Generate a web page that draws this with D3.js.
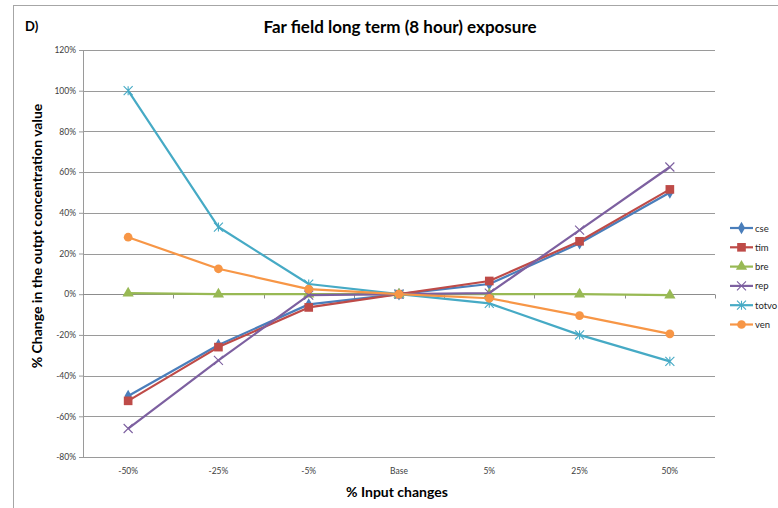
<!DOCTYPE html>
<html>
<head>
<meta charset="utf-8">
<script src="https://cdn.jsdelivr.net/npm/d3@7"></script>
<style>
  body { margin: 0; background: #fff; }
  text { font-family: Lato, "Open Sans", sans-serif; }
</style>
</head>
<body>
<div id="chart"></div>
<script>
let categories = ["-50%", "-25%", "-5%", "Base", "5%", "25%", "50%"];

let cse   = [-50, -25, -5, 0, 5, 25, 50];
let tim   = [-52.4, -26, -6.5, 0, 6.5, 26, 51.5];
let bre   = [0.5, 0, 0, 0, 0, 0, -0.5];
let rep   = [-66, -32.5, -0.5, 0, 0.5, 31.5, 62.5];
let totvo = [100, 33, 5, 0, -4.5, -20, -33];
let ven   = [28, 12.5, 2.5, 0, -2, -10.5, -19.5];

let yTicks = [-80, -60, -40, -20, 0, 20, 40, 60, 80, 100, 120];

let seriesNames  = ["cse", "tim", "bre", "rep", "totvo", "ven"];
let seriesValues = [cse, tim, bre, rep, totvo, ven];
let seriesColors = ["#4a7ebb", "#be4b48", "#98b954", "#7d60a0", "#46aac5", "#f79646"];
let seriesSymbols = ["diamond", "square", "triangle", "x", "star", "circle"];

let width = 778, height = 508;
let margin = { top: 50, right: 63, bottom: 51, left: 83 };
let innerW = width - margin.left - margin.right,
    innerH = height - margin.top - margin.bottom;

let svg = d3.select("#chart").append("svg")
    .attr("width", width)
    .attr("height", height);

// outer chart border
svg.append("rect")
    .attr("x", 13.5).attr("y", 5.5)
    .attr("width", 800).attr("height", 600)
    .attr("fill", "none")
    .attr("stroke", "#a6a6a6");

let g = svg.append("g")
    .attr("transform", "translate(" + margin.left + "," + margin.top + ")");

let x = d3.scaleBand().domain(categories).range([0, innerW]);
let y = d3.scaleLinear().domain([-80, 120]).range([innerH, 0]);

// gridlines
g.selectAll(".grid")
  .data(yTicks)
  .enter().append("line")
    .attr("x1", 0).attr("x2", innerW)
    .attr("y1", d => Math.round(y(d)) + 0.5)
    .attr("y2", d => Math.round(y(d)) + 0.5)
    .attr("stroke", "#9a9a9a")
    .attr("stroke-width", 1);

// left axis
let yAxis = g.append("g")
    .call(d3.axisLeft(y).tickValues(yTicks).tickSize(4).tickFormat(d => d + "%"));
yAxis.select(".domain").attr("stroke", "#9a9a9a");
yAxis.selectAll(".tick line").attr("stroke", "#9a9a9a");
yAxis.selectAll(".tick text")
    .attr("font-size", 8.5)
    .attr("fill", "#404040")
    .attr("x", -7);

// category axis crossing at zero, labels placed at the bottom
let y0 = Math.round(y(0)) + 0.5;
g.append("line")
    .attr("x1", 0).attr("x2", innerW)
    .attr("y1", y0).attr("y2", y0)
    .attr("stroke", "#8c8c8c");
let bounds = categories.map((c, i) => x.step() * (i + 1));
g.selectAll(".xtick")
  .data(bounds)
  .enter().append("line")
    .attr("x1", d => Math.round(d) + 0.5).attr("x2", d => Math.round(d) + 0.5)
    .attr("y1", y0).attr("y2", y0 + 4)
    .attr("stroke", "#8c8c8c");

g.selectAll(".xlabel")
  .data(categories)
  .enter().append("text")
    .attr("x", d => x(d) + x.bandwidth() / 2)
    .attr("y", innerH + 17)
    .attr("text-anchor", "middle")
    .attr("font-size", 8.5)
    .attr("fill", "#404040")
    .text(d => d);

// lines
let line = d3.line()
    .x((d, i) => x(categories[i]) + x.bandwidth() / 2)
    .y(d => y(d));

let symbolTypes = {
  diamond: d3.symbolDiamond, square: d3.symbolSquare, triangle: d3.symbolTriangle,
  circle: d3.symbolCircle
};

function drawMarker(sel, type, color, cx, cy) {
  if (type === "x" || type === "star") {
    let r = 4.5;
    let p = "M" + (cx - r) + "," + (cy - r) + "L" + (cx + r) + "," + (cy + r) +
            "M" + (cx - r) + "," + (cy + r) + "L" + (cx + r) + "," + (cy - r);
    if (type === "star") p += "M" + cx + "," + (cy - r) + "L" + cx + "," + (cy + r);
    sel.append("path").attr("d", p).attr("stroke", color).attr("stroke-width", 1.1).attr("fill", "none");
  } else {
    let size = type === "circle" ? 60 : type === "square" ? 75 : type === "triangle" ? 55 : 45;
    sel.append("path")
      .attr("d", d3.symbol().type(symbolTypes[type]).size(size)())
      .attr("transform", "translate(" + cx + "," + cy + ")")
      .attr("fill", color);
  }
}

seriesValues.forEach(function(vals, k) {
  g.append("path")
    .attr("d", line(vals))
    .attr("fill", "none")
    .attr("stroke", seriesColors[k])
    .attr("stroke-width", 2.2)
    .attr("stroke-linejoin", "round");
  vals.forEach(function(v, i) {
    drawMarker(g, seriesSymbols[k], seriesColors[k], x(categories[i]) + x.bandwidth() / 2, y(v));
  });
});

// legend
let legend = svg.append("g").attr("transform", "translate(730,228)");
seriesNames.forEach(function(name, k) {
  let ly = k * 19.3;
  legend.append("line")
    .attr("x1", 0).attr("x2", 23)
    .attr("y1", ly).attr("y2", ly)
    .attr("stroke", seriesColors[k])
    .attr("stroke-width", 2.2);
  drawMarker(legend, seriesSymbols[k], seriesColors[k], 11.5, ly);
  legend.append("text")
    .attr("x", 25).attr("y", ly + 3.5)
    .attr("font-size", 9.5)
    .attr("fill", "#262626")
    .text(name);
});

// titles
svg.append("text")
    .attr("x", 25).attr("y", 31)
    .attr("font-size", 13).attr("font-weight", "bold")
    .text("D)");

svg.append("text")
    .attr("x", 400).attr("y", 33)
    .attr("text-anchor", "middle")
    .attr("font-size", 17).attr("font-weight", "bold")
    .text("Far field long term (8 hour) exposure");

svg.append("text")
    .attr("transform", "translate(42,236) rotate(-90)")
    .attr("text-anchor", "middle")
    .attr("font-size", 14).attr("font-weight", "bold")
    .text("% Change in the outpt concentration  value");

svg.append("text")
    .attr("x", 397).attr("y", 497)
    .attr("text-anchor", "middle")
    .attr("font-size", 14).attr("font-weight", "bold")
    .text("% Input  changes");
</script>
</body>
</html>
